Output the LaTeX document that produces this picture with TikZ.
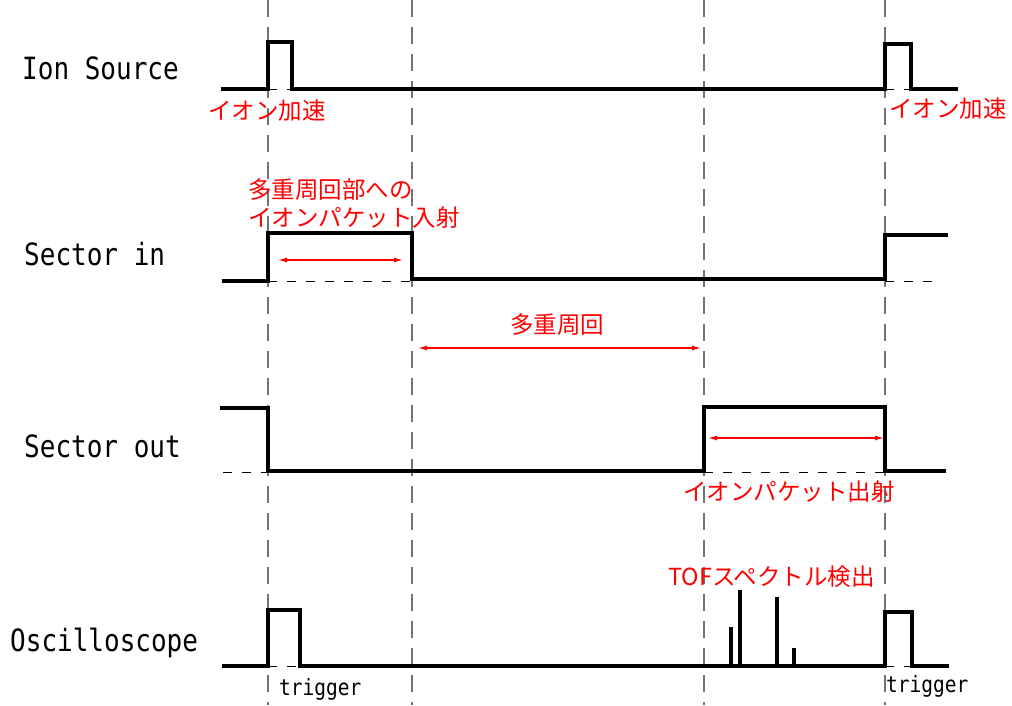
\documentclass[tikz,border=0pt]{standalone}
\usepackage{fontspec}
\setmainfont{DejaVu Sans}
\newfontfamily\jpfont{Noto Sans CJK JP}
\newfontfamily\monofont{DejaVu Sans Mono}
\usetikzlibrary{arrows.meta}
\begin{document}
\begin{tikzpicture}[x=1pt,y=-1pt,
  signal/.style={line width=4.6pt,line join=miter,line cap=rect},
  spike/.style={line width=3.4pt},
  guide/.style={black!55,line width=1.1pt,dash pattern=on 17pt off 10pt},
  refline/.style={black,line width=0.9pt,dash pattern=on 9pt off 10pt},
  span/.style={red,line width=1.2pt,{Latex[length=9pt,width=5pt]}-{Latex[length=9pt,width=5pt]}},
  chan/.style={anchor=west,inner sep=0,font=\monofont\fontsize{26}{26}\selectfont},
  note/.style={anchor=west,inner sep=0,text=red,font=\jpfont\fontsize{23.5}{23.5}\selectfont},
  trig/.style={anchor=west,inner sep=0,font=\monofont\fontsize{19.5}{19.5}\selectfont}]
\useasboundingbox (0,0) rectangle (1012,705);

% timing guides
\foreach \x/\n in {268/ga,412/gb,704/gc,885/gd}{
  \coordinate (\n top) at (\x,0);
  \coordinate (\n bot) at (\x,705);
  \draw[guide] (\n top) -- (\n bot);
}

% channel names
\node[chan] (lion) at (22,68) {\scalebox{1}[1.18]{Ion Source}};
\node[chan] (lsin) at (24,254) {\scalebox{1}[1.18]{Sector in}};
\node[chan] (lsout) at (24,446) {\scalebox{1}[1.18]{Sector out}};
\node[chan] (losc) at (10,643) {\scalebox{1}[1.18]{Oscilloscope}};

% Ion Source
\draw[refline] (268,89) -- (293,89);
\draw[refline] (885,89) -- (912,89);
\draw[signal] (223,89) -- (268,89) -- (268,42) -- (292,42) -- (292,89)
  -- (885,89) -- (885,44) -- (911,44) -- (911,89) -- (956,89);
\node[note] (acc1) at (208,111) {イオン加速};
\node[note] (acc2) at (889,109) {イオン加速};

% Sector in
\draw[refline] (268,281) -- (412,281);
\draw[refline] (885,281) -- (936,281);
\draw[signal] (224,281) -- (268,281) -- (268,233) -- (412,233) -- (412,279)
  -- (885,279) -- (885,235) -- (946,235);
\node[note] (inj1) at (248,190) {多重周回部への};
\node[note] (inj2) at (248,218) {イオンパケット入射};
\coordinate (injL) at (278,260);
\coordinate (injR) at (403,260);
\draw[span] (injL) -- (injR);

% multi-turn span
\node[note,anchor=center] (mt) at (557,325) {多重周回};
\coordinate (mtL) at (418,348);
\coordinate (mtR) at (701,348);
\draw[span] (mtL) -- (mtR);

% Sector out
\draw[refline] (223,472) -- (268,472);
\draw[refline] (704,472) -- (885,472);
\draw[signal] (222,408) -- (268,408) -- (268,471) -- (704,471) -- (704,407)
  -- (885,407) -- (885,471) -- (944,471);
\coordinate (ejL) at (708,438);
\coordinate (ejR) at (884,438);
\draw[span] (ejL) -- (ejR);
\node[note] (ej) at (683,492) {イオンパケット出射};

% Oscilloscope
\draw[refline] (268,666) -- (301,666);
\draw[refline] (885,666) -- (913,666);
\draw[signal] (224,666) -- (268,666) -- (268,610) -- (300,610) -- (300,666)
  -- (885,666) -- (885,612) -- (912,612) -- (912,666) -- (947,666);
\foreach \x/\t/\n in {731/627/sa,740/590/sb,777/597/sc,794/648/sd}{
  \coordinate (\n top) at (\x,\t);
  \coordinate (\n base) at (\x,665);
  \draw[spike] (\n base) -- (\n top);
}
\node[note] (tof) at (668,577) {TOFスペクトル検出};
\node[trig] (tr1) at (279,689) {\scalebox{1}[1.15]{trigger}};
\node[trig] (tr2) at (886,686) {\scalebox{1}[1.15]{trigger}};
\end{tikzpicture}
\end{document}
